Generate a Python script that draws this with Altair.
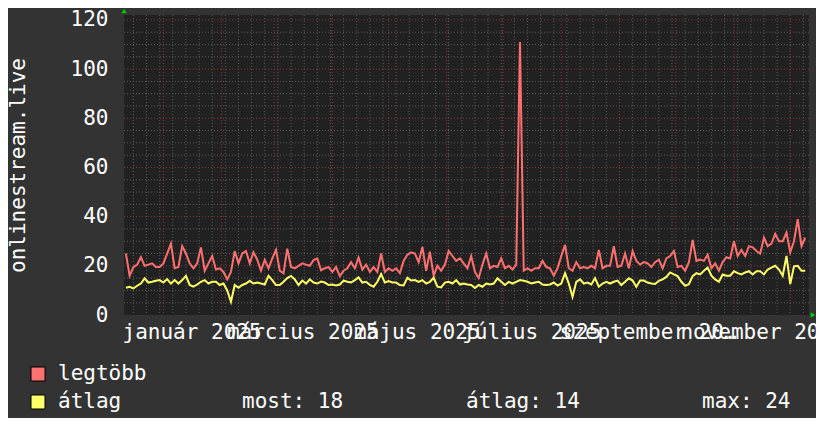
import altair as alt
import pandas as pd

# ---- data (daily-ish samples, every 2 days) ----
RED = [
    25, 16, 19.5, 20.5, 23.5, 20, 20.5, 21, 19.5, 19.5,
    21, 25, 29, 19, 19.5, 28, 25, 21, 19, 21,
    27.5, 18, 21, 24, 18.5, 19, 17.5, 14.5, 17.5, 26,
    21, 25, 26, 21, 25.5, 22.5, 18, 22.5, 19, 23,
    26.5, 18, 17, 27, 19.5, 19,
    20, 21, 20.5, 20, 22.3, 23, 18.2, 19, 19.5, 17.5,
    19.5, 15.8, 18, 19, 21.5, 19, 23.3, 18.5, 20.5, 17.5,
    19.5, 17.5, 25, 17.5, 19, 18, 19, 17, 22, 24.5,
    25.5, 25, 21.5, 27.7, 18, 25.7, 16, 20, 18, 20.5,
    26, 24, 22, 23, 21, 19,
    24, 17.5, 15, 20.5, 25, 19, 20, 19.5, 23, 19,
    20, 18.5, 20.5, 111, 18, 19, 18, 19, 19, 22,
    19.5, 19, 16, 19, 24, 28.5, 19, 18, 21.5, 19,
    19.5, 19, 20, 19, 26.5, 19, 20, 20, 28, 19.5,
    20, 25, 19, 26, 22, 20.5,
    21.5, 21, 19.5, 21.5, 22.5, 19, 23, 24, 26, 19.5,
    20, 18, 21.5, 30.5, 22, 22.5, 22, 24.5, 19, 21,
    18, 21.5, 23.5, 23, 30, 24, 26.5, 24, 28, 27.5,
    26, 25, 31.5, 28, 29, 33, 30, 30, 33.5, 25.5,
    30, 39, 28, 31.5,
]
YELLOW = [
    11.1, 11.5, 10.8, 11.9, 12.8, 14.9, 13.2, 13.5, 13.9, 14.2,
    13.2, 14.6, 12.8, 14.2, 12.8, 14.2, 15.9, 12.2, 11.5, 12.4,
    13.5, 14.2, 12.8, 13.5, 13.5, 12.2, 12.8, 10, 5.4, 12.2,
    11.1, 12.2, 12.8, 13.9, 12.8, 13.2, 12.8, 12.4, 15.9, 14.2,
    12.2, 12.2, 13.5, 15, 15.9, 14.5,
    12.2, 14, 12.8, 14.5, 13.2, 12.8, 13.6, 13.2, 12.2, 12.4,
    12, 12.4, 14, 13.5, 13.2, 14.2, 15.3, 13.2, 13.5, 12.2,
    11.5, 13.5, 16.6, 13.2, 13.8, 13.2, 13.2, 12.2, 12, 15.1,
    14, 14.2, 13.5, 14.2, 12.8, 13.5, 15.1, 11.5, 11.2, 13.2,
    13.5, 12.8, 14.2, 12.4, 12.8, 12.4,
    12.2, 11, 12.2, 11.5, 12.8, 12.4, 12.8, 14.9, 13.5, 12.2,
    13.5, 12.8, 13.5, 14.2, 13.9, 13.5, 12.8, 13.2, 13.5, 12.4,
    12.2, 12.4, 13.2, 12, 12.8, 17, 12.8, 7.4, 13.5, 14.5,
    12.8, 13.2, 12.4, 15, 11.5, 12.8, 13.5, 12.8, 13.5, 14,
    12.2, 13.5, 14.9, 14, 11.5, 14,
    14, 13.2, 12.8, 12.6, 13.9, 14.5, 15.5, 17.3, 16.5, 15.8,
    13.5, 11.9, 12.5, 15.8, 17, 16.5, 18, 19.3, 16, 14.5,
    13.5, 16.5, 16, 16, 17.8, 17, 16.5, 17.3, 17.8, 16.5,
    17.8, 17.8, 16.5, 18.5, 19.3, 20, 18.5, 16, 24, 12.6,
    19.8, 20, 18, 18,
]
# day index (days since 2024-12-11), one sample every 2 days
DAY = [1 + 2 * i for i in range(len(RED))]

SERIES = ["legtöbb", "átlag"]
STATS = ["most: 18", "átlag: 14", "max: 24"]

LABEL_DAYS = [36, 95, 156, 217, 279, 340]
LABEL_TEXT = ["január 2025", "március 2025", "május 2025",
              "július 2025", "szeptember 2025", "november 2025"]
MONTH_DAYS = [21, 52, 80, 111, 141, 172, 202, 233, 264, 294, 325, 355]
WEEK_DAYS = list(range(5, 365, 7))
Y_TICKS = [0, 20, 40, 60, 80, 100, 120]
Y_MAJOR = [20, 40, 60, 80, 100, 120]
Y_MINOR = [v for v in range(5, 121, 5) if v % 20 != 0]

# ---- style ----
FONT = "DejaVu Sans Mono"
FS = 21
BG = "#333333"
PLOT_BG = "#212121"
MINOR_C = "#5a5a5a"
MAJOR_C = "#8a3535"
RED_C = "#ff7070"
YEL_C = "#ffff66"

XS = alt.Scale(domain=[0, 365], nice=False, zero=False)
YS = alt.Scale(domain=[0, 122], nice=False, zero=True)

expr = "''"
for d, t in zip(reversed(LABEL_DAYS), reversed(LABEL_TEXT)):
    expr = f"datum.value == {d} ? '{t}' : ({expr})"

X_AX = alt.Axis(values=LABEL_DAYS, labelExpr=expr, title=None, grid=False,
                domain=False, ticks=False, tickSize=0, labelPadding=23,
                labelBaseline="alphabetic", labelAlign="center",
                labelOverlap=False, labelBound=False, labelFlush=False,
                labelFont=FONT, labelFontSize=FS, labelColor="white")
Y_AX = alt.Axis(values=Y_TICKS, title="onlinestream.live", grid=False,
                domain=False, ticks=False, tickSize=0, labelPadding=16,
                labelFont=FONT, labelFontSize=FS, labelColor="white",
                labelBaseline="middle", labelOverlap=False,
                titleFont=FONT, titleFontSize=FS, titleColor="white",
                titleFontWeight="normal", titleX=-100, titleY=150,
                titleBaseline="alphabetic", titleAngle=270)

line_df = pd.DataFrame({"day": DAY, "red": RED, "yellow": YELLOW})

def vrules(vals, color):
    return alt.Chart(pd.DataFrame({"d": vals})).mark_rule(
        color=color, strokeWidth=1, strokeDash=[1, 2]
    ).encode(x=alt.X("d:Q", scale=XS, axis=X_AX))

def hrules(vals, color):
    return alt.Chart(pd.DataFrame({"v": vals})).mark_rule(
        color=color, strokeWidth=1, strokeDash=[1, 2]
    ).encode(y=alt.Y("v:Q", scale=YS, axis=Y_AX))

red_line = alt.Chart(line_df).mark_line(color=RED_C, strokeWidth=2, interpolate="linear").encode(
    x=alt.X("day:Q", scale=XS, axis=X_AX), y=alt.Y("red:Q", scale=YS, axis=Y_AX))
yel_line = alt.Chart(line_df).mark_line(color=YEL_C, strokeWidth=2, interpolate="linear").encode(
    x=alt.X("day:Q", scale=XS, axis=X_AX), y=alt.Y("yellow:Q", scale=YS, axis=Y_AX))

one = pd.DataFrame({"a": [0]})
arrow_up = alt.Chart(one).mark_point(shape="triangle-up", filled=True, color="#00cc00", size=30, opacity=1).encode(
    x=alt.datum(0), y=alt.value(-4))
arrow_right = alt.Chart(one).mark_point(shape="triangle-right", filled=True, color="#00cc00", size=30, opacity=1).encode(
    x=alt.value(689), y=alt.datum(0))

legend_layers = []
for k, (name, col) in enumerate(zip(SERIES, [RED_C, YEL_C])):
    yy = 359 + 28 * k
    legend_layers.append(alt.Chart(one).mark_square(size=196, fill=col, stroke="black", strokeWidth=1, opacity=1).encode(
        x=alt.value(-86), y=alt.value(yy)))
    legend_layers.append(alt.Chart(one).mark_text(text=name, align="left", baseline="middle", font=FONT,
                                                   fontSize=FS, color="white").encode(
        x=alt.value(-66), y=alt.value(yy)))
for s, xx in zip(STATS, [118, 342, 578]):
    legend_layers.append(alt.Chart(one).mark_text(text=s, align="left", baseline="middle", font=FONT,
                                                   fontSize=FS, color="white").encode(
        x=alt.value(xx), y=alt.value(387)))

chart = alt.layer(
    vrules(WEEK_DAYS, MINOR_C), hrules(Y_MINOR, MINOR_C),
    vrules(MONTH_DAYS, MAJOR_C), hrules(Y_MAJOR, MAJOR_C),
    red_line, yel_line, arrow_up, arrow_right, *legend_layers
).properties(
    width=685, height=300, background=BG,
    padding={"left": 116, "top": 7, "right": 7, "bottom": 103},
    autosize=alt.AutoSizeParams(type="none"),
).configure_view(fill=PLOT_BG, stroke=None)

chart.save("out.html", embed_options={"renderer": "svg", "actions": False})
